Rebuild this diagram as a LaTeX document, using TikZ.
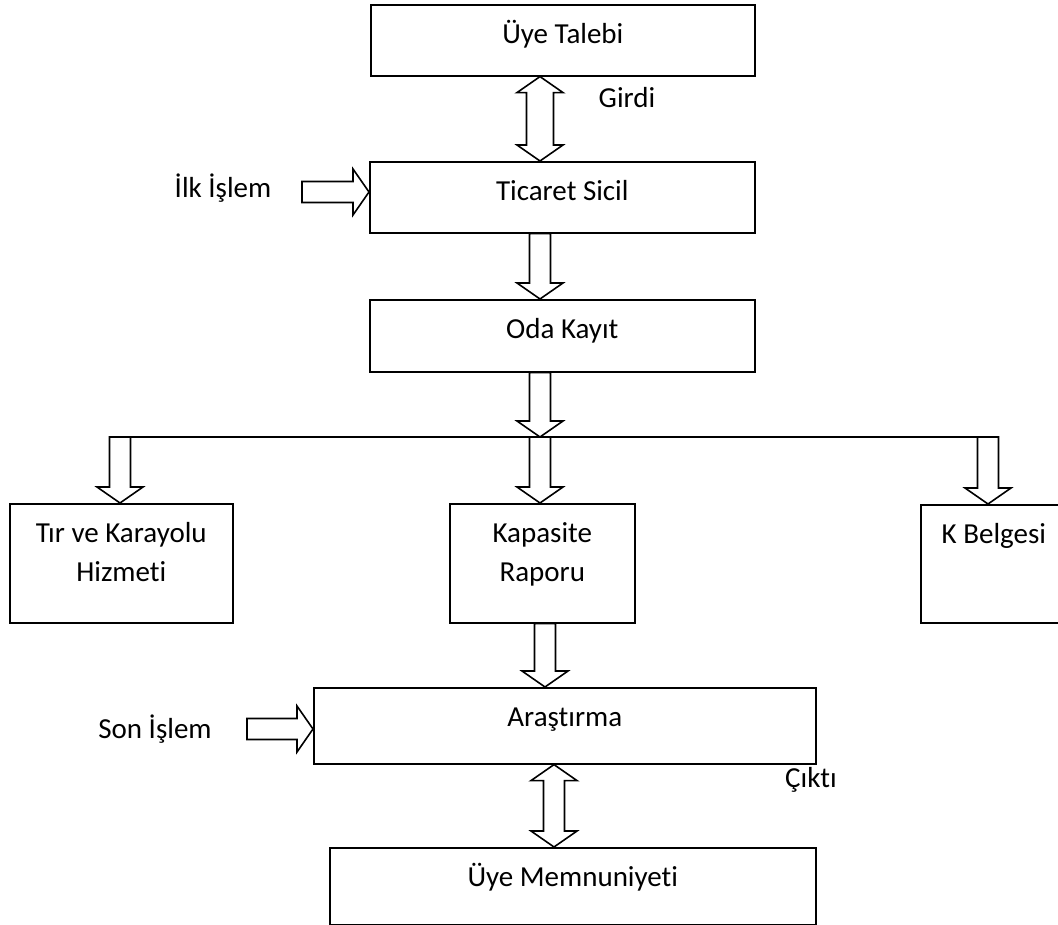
\documentclass[tikz,border=0pt]{standalone}
\usepackage{fontspec}
\setmainfont{Carlito}[Ligatures=NoCommon]
\usetikzlibrary{calc}

% hollow block arrow, one head / two heads
\newcommand{\fatarrow}[3][10.5]{%
  \draw[arrowbody] let \p1=(#2), \p2=(#3),
    \n1={veclen(\x2-\x1,\y2-\y1)}, \n2={atan2(\y2-\y1,\x2-\x1)} in
    [shift={(\p1)}, rotate=\n2]
    (0,-#1) -- (\n1-16,-#1) -- (\n1-16,-23) -- (\n1,0) -- (\n1-16,23) -- (\n1-16,#1) -- (0,#1) -- cycle;}
\newcommand{\fatarrows}[3][10.5]{%
  \draw[arrowbody] let \p1=(#2), \p2=(#3),
    \n1={veclen(\x2-\x1,\y2-\y1)}, \n2={atan2(\y2-\y1,\x2-\x1)} in
    [shift={(\p1)}, rotate=\n2]
    (0,0) -- (16,-23) -- (16,-#1) -- (\n1-16,-#1) -- (\n1-16,-23) -- (\n1,0)
    -- (\n1-16,23) -- (\n1-16,#1) -- (16,#1) -- (16,23) -- cycle;}

\begin{document}
\begin{tikzpicture}
  [x=1pt,y=-1pt,line width=1.6pt,font=\fontsize{29}{38.5}\selectfont,
   box/.style={draw,inner sep=0pt,anchor=north west,align=flush center,text height=39pt},
   arrowbody/.style={draw,fill=white},
   tag/.style={anchor=base}]
  \useasboundingbox (0,0) rectangle (1058,925);

  \node[box,text width=384pt,text depth=32pt] (talep) at (370,4) {Üye Talebi};
  \node[box,text width=385pt,text depth=32pt] (ticaret) at (369,161) {Ticaret Sicil};
  \node[box,text width=385pt,text depth=33pt] (oda) at (369,299) {Oda Kayıt};
  \node[box,text width=223pt,text depth=80pt] (tir) at (9,503) {Tır ve Karayolu\\Hizmeti};
  \node[box,text width=185pt,text depth=80pt] (kapasite) at (449,503) {Kapasite\\Raporu};
  \node[box,text width=146pt,text depth=79pt] (kbelge) at (920,504) {K Belgesi};
  \node[box,text width=502pt,text depth=37pt] (arastirma) at (313,687) {Araştırma};
  \node[box,text width=486pt,text depth=38pt] (memnun) at (329,847) {Üye Memnuniyeti};

  \node[tag] (girdi) at (627,108) {Girdi};
  \node[tag] (ilk) at (223,198) {İlk İşlem};
  \node[tag] (son) at (155,738) {Son İşlem};
  \node[tag] (cikti) at (811,787) {Çıktı};

  \coordinate (leftcol) at (120,437);
  \coordinate (midcol) at (540,437);
  \coordinate (rightcol) at (988,437);
  \coordinate (lowcol) at (545,0);
  \coordinate (outcol) at (554,0);
  \coordinate (ilkstart) at (302,192);
  \coordinate (sonstart) at (247,729);

  \draw ([xshift=-10.5pt]leftcol) -- ([xshift=10.5pt]rightcol);

  \fatarrows[13.5]{talep.south -| midcol}{ticaret.north -| midcol}
  \fatarrow{ilkstart}{ticaret.west |- ilkstart}
  \fatarrow{ticaret.south -| midcol}{oda.north -| midcol}
  \fatarrow{oda.south -| midcol}{midcol}
  \fatarrow{leftcol}{tir.north -| leftcol}
  \fatarrow{midcol}{kapasite.north -| midcol}
  \fatarrow{rightcol}{kbelge.north -| rightcol}
  \fatarrow{kapasite.south -| lowcol}{arastirma.north -| lowcol}
  \fatarrow{sonstart}{arastirma.west |- sonstart}
  \fatarrows{arastirma.south -| outcol}{memnun.north -| outcol}
\end{tikzpicture}
\end{document}
